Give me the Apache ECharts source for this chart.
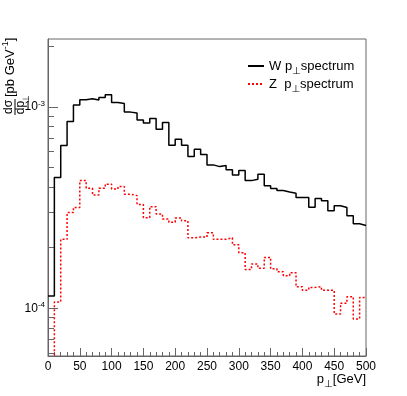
<!DOCTYPE html>
<html>
<head>
<meta charset="utf-8">
<script src="https://cdn.jsdelivr.net/npm/echarts@6/dist/echarts.min.js"></script>
<style>
  html, body { margin: 0; padding: 0; background: #fff; }
  #chart { width: 407px; height: 396px; }
</style>
</head>
<body>
<div id="chart"></div>
<script>
// bin low edges (10 GeV bins) plus the closing edge at 500
const binEdges = [0, 10, 20, 30, 40, 50, 60, 70, 80, 90, 100, 110, 120, 130, 140, 150, 160, 170, 180, 190,
  200, 210, 220, 230, 240, 250, 260, 270, 280, 290, 300, 310, 320, 330, 340, 350, 360, 370, 380, 390,
  400, 410, 420, 430, 440, 450, 460, 470, 480, 490, 500]

// W pT spectrum, pb/GeV
const wSpectrum = [1.15e-4, 4.47e-4, 6.44e-4, 8.48e-4, 1.023e-3, 1.087e-3, 1.100e-3, 1.084e-3, 1.117e-3, 1.151e-3,
  1.054e-3, 1.042e-3, 9.44e-4, 9.34e-4, 8.62e-4, 8.33e-4, 8.78e-4, 7.77e-4, 8.38e-4, 6.47e-4,
  6.93e-4, 6.47e-4, 5.68e-4, 6.18e-4, 5.81e-4, 5.16e-4, 5.06e-4, 5.12e-4, 4.88e-4, 4.60e-4,
  4.84e-4, 4.31e-4, 4.38e-4, 4.64e-4, 4.06e-4, 3.94e-4, 3.85e-4, 3.78e-4, 3.73e-4, 3.55e-4,
  3.55e-4, 3.18e-4, 3.51e-4, 3.42e-4, 3.05e-4, 3.23e-4, 3.17e-4, 2.88e-4, 2.63e-4, 2.58e-4]

// Z pT spectrum, pb/GeV (first bin empty, below the axis)
const zSpectrum = [5.0e-5, 1.075e-4, 2.20e-4, 2.99e-4, 3.17e-4, 4.31e-4, 3.95e-4, 3.66e-4, 3.95e-4, 4.14e-4,
  3.92e-4, 4.03e-4, 3.69e-4, 3.63e-4, 3.28e-4, 2.82e-4, 3.20e-4, 2.94e-4, 2.78e-4, 2.68e-4,
  2.81e-4, 2.72e-4, 2.24e-4, 2.26e-4, 2.26e-4, 2.37e-4, 2.20e-4, 2.20e-4, 2.24e-4, 2.07e-4,
  1.89e-4, 1.56e-4, 1.66e-4, 1.58e-4, 1.79e-4, 1.57e-4, 1.52e-4, 1.45e-4, 1.50e-4, 1.28e-4,
  1.23e-4, 1.27e-4, 1.28e-4, 1.23e-4, 1.23e-4, 9.37e-5, 1.06e-4, 1.14e-4, 8.85e-5, 1.13e-4]

const yMajorTicks = [1e-4, 1e-3]
const yMinorTicks = [6e-5, 7e-5, 8e-5, 9e-5, 2e-4, 3e-4, 4e-4, 5e-4, 6e-4, 7e-4, 8e-4, 9e-4, 2e-3]

const FONT = 'Liberation Sans, Arial, Helvetica, sans-serif'
const AXIS_COLOR = '#666'

// histogram as step line: [low edge, content], last bin closed at 500
const toSteps = vals => binEdges.map((e, i) => [e, vals[Math.min(i, vals.length - 1)]])

const myChart = echarts.init(document.getElementById('chart'))

const legendText = {
  W: '{a|W p}{s|⊥}{a|spectrum}',
  Z: '{a|Z  p}{s|⊥}{a|spectrum}'
}

// shared rich styles for "p⊥" style subscripts
const subRich = {
  a: { fontSize: 13, fontFamily: FONT, color: '#000', fill: '#000', lineHeight: 16 },
  s: { fontSize: 10, fontFamily: 'DejaVu Sans', color: '#000', fill: '#000', lineHeight: 12, padding: [10, 0, 0, 0] }
}

const option = {
  backgroundColor: '#fff',
  animation: false,
  grid: {
    left: 48,
    right: 41,
    top: 39,
    bottom: 40,
    show: true,
    borderColor: AXIS_COLOR,
    borderWidth: 1,
    outerBoundsMode: 'none'
  },
  legend: {
    orient: 'vertical',
    left: 242,
    top: 51,
    itemWidth: 16,
    itemHeight: 10,
    itemGap: -2,
    selectedMode: false,
    data: ['W', 'Z'],
    formatter: name => legendText[name],
    itemStyle: { opacity: 0 },
    textStyle: {
      color: '#000',
      fontFamily: FONT,
      rich: subRich
    }
  },
  xAxis: {
    type: 'value',
    min: 0,
    max: 500,
    interval: 50,
    axisLine: { lineStyle: { color: AXIS_COLOR, width: 1 } },
    axisTick: { inside: true, length: 8, lineStyle: { color: AXIS_COLOR } },
    minorTick: { show: true, splitNumber: 5, length: 4, lineStyle: { color: AXIS_COLOR } },
    axisLabel: { fontSize: 12, fontFamily: FONT, color: '#000', margin: 5 },
    splitLine: { show: false },
    minorSplitLine: { show: false }
  },
  yAxis: [
    {
      type: 'log',
      min: 5.79e-5,
      max: 2.18e-3,
      position: 'left',
      axisLine: { show: true, lineStyle: { color: AXIS_COLOR, width: 1 } },
      axisTick: { inside: true, length: 10, customValues: yMajorTicks, lineStyle: { color: AXIS_COLOR } },
      axisLabel: {
        customValues: yMajorTicks,
        margin: 3,
        formatter: v => '{b|10}{s|' + Math.round(Math.log10(v)) + '}',
        rich: {
          b: { fontSize: 12, fontFamily: FONT, color: '#000' },
          s: { fontSize: 8, fontFamily: FONT, color: '#000', padding: [0, 0, 7, 0] }
        }
      },
      splitLine: { show: false },
      minorTick: { show: false }
    },
    {
      type: 'log',
      min: 5.79e-5,
      max: 2.18e-3,
      position: 'left',
      axisLine: { show: false },
      axisTick: { show: true, inside: true, length: 6, customValues: yMinorTicks, lineStyle: { color: AXIS_COLOR } },
      axisLabel: { show: false },
      splitLine: { show: false },
      minorTick: { show: false }
    }
  ],
  graphic: [
    {
      // x axis title, right aligned with the frame
      type: 'text',
      x: 366,
      y: 371,
      style: {
        text: '{a|p}{s|⊥}{a|[GeV]}',
        align: 'right',
        verticalAlign: 'top',
        rich: subRich
      }
    },
    {
      // y axis title: d sigma / d p_perp [pb GeV^-1], rotated
      type: 'group',
      x: 0,
      y: 122,
      rotation: Math.PI / 2,
      children: [
        { type: 'text', x: 15, y: 9, style: { text: 'dσ', font: '12px ' + FONT, fill: '#000', align: 'center', verticalAlign: 'middle' } },
        { type: 'line', shape: { x1: 7, y1: 15, x2: 23, y2: 15 }, style: { stroke: '#000', lineWidth: 1 } },
        { type: 'text', x: 14.5, y: 21, style: { text: 'dp', font: '12px ' + FONT, fill: '#000', align: 'center', verticalAlign: 'middle' } },
        { type: 'text', x: 23, y: 27, style: { text: '⊥', font: '9px DejaVu Sans', fill: '#000', align: 'center', verticalAlign: 'middle' } },
        {
          type: 'text', x: 25, y: 10,
          style: {
            text: '{a|[pb GeV}{s|-1}{a|]}',
            align: 'left',
            verticalAlign: 'middle',
            rich: {
              a: { fontSize: 13, fontFamily: FONT, fill: '#000' },
              s: { fontSize: 9, fontFamily: FONT, fill: '#000', padding: [0, 0, 8, 0] }
            }
          }
        }
      ]
    }
  ],
  series: [
    {
      name: 'W',
      type: 'line',
      step: 'end',
      symbol: 'none',
      data: toSteps(wSpectrum),
      lineStyle: { color: '#000', width: 1.5 },
      itemStyle: { color: '#000' },
      clip: true,
      silent: true
    },
    {
      name: 'Z',
      type: 'line',
      step: 'end',
      symbol: 'none',
      data: toSteps(zSpectrum),
      lineStyle: { color: '#ff0000', width: 1.5, type: [2, 2] },
      itemStyle: { color: '#ff0000' },
      clip: true,
      silent: true
    }
  ]
}

option && myChart.setOption(option)
window.addEventListener('resize', function () {
  myChart.resize()
})
</script>
</body>
</html>
